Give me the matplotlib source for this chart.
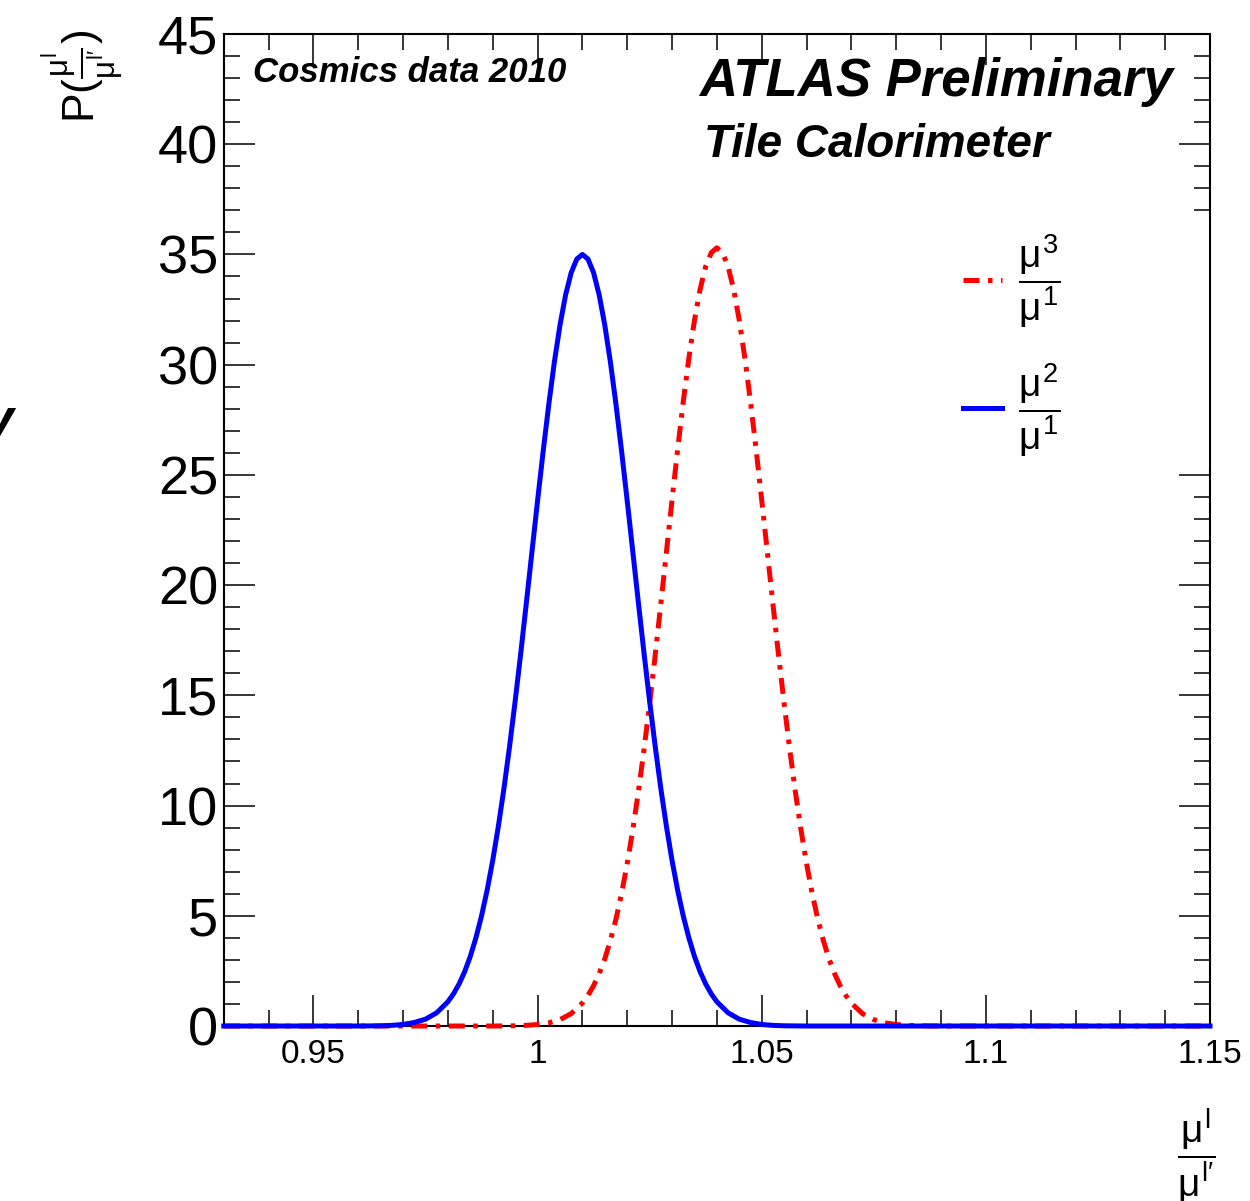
import matplotlib
matplotlib.use("Agg")
import matplotlib.pyplot as plt
from matplotlib.ticker import MultipleLocator, FuncFormatter
from matplotlib.patches import Rectangle

plt.rcParams.update({
    "font.family": "Liberation Sans",
    "mathtext.fontset": "custom",
    "mathtext.rm": "Liberation Sans",
    "mathtext.it": "Liberation Sans",
    "mathtext.bf": "Liberation Sans:bold",
    "axes.linewidth": 1.5,
})

# ratio mu2/mu1 (solid blue)
x_21 = [0.93, 0.96, 0.965, 0.9675, 0.97, 0.9725, 0.975, 0.9775,
        0.98, 0.98125, 0.9825, 0.98375, 0.985, 0.98625, 0.9875, 0.98875,
        0.99, 0.99125, 0.9925, 0.99375, 0.995, 0.99625, 0.9975, 0.99875,
        1.0, 1.00125, 1.0025, 1.00375, 1.005, 1.00625, 1.0075, 1.00875,
        1.01, 1.01125, 1.0125, 1.01375, 1.015, 1.01625, 1.0175, 1.01875,
        1.02, 1.02125, 1.0225, 1.02375, 1.025, 1.02625, 1.0275, 1.02875,
        1.03, 1.03125, 1.0325, 1.03375, 1.035, 1.03625, 1.0375, 1.03875,
        1.04, 1.0425, 1.045, 1.0475, 1.05, 1.0525, 1.055, 1.06, 1.15]
p_21 = [0.0, 0.0, 0.01, 0.03, 0.07, 0.16, 0.31, 0.60,
        1.10, 1.46, 1.91, 2.47, 3.16, 4.00, 4.99, 6.16,
        7.51, 9.05, 10.77, 12.67, 14.73, 16.91, 19.19, 21.51,
        23.82, 26.07, 28.19, 30.12, 31.79, 33.16, 34.17, 34.79,
        35.00, 34.79, 34.17, 33.16, 31.79, 30.12, 28.19, 26.07,
        23.82, 21.51, 19.19, 16.91, 14.73, 12.67, 10.77, 9.05,
        7.51, 6.16, 4.99, 4.00, 3.16, 2.47, 1.91, 1.46,
        1.10, 0.60, 0.31, 0.16, 0.07, 0.03, 0.01, 0.0, 0.0]

# ratio mu3/mu1 (red dash-dot)
x_31 = [0.93, 0.99, 0.995, 0.9975, 1.0, 1.0025, 1.005, 1.0075,
        1.01, 1.01125, 1.0125, 1.01375, 1.015, 1.01625, 1.0175, 1.01875,
        1.02, 1.02125, 1.0225, 1.02375, 1.025, 1.02625, 1.0275, 1.02875,
        1.03, 1.03125, 1.0325, 1.03375, 1.035, 1.03625, 1.0375, 1.03875,
        1.04, 1.04125, 1.0425, 1.04375, 1.045, 1.04625, 1.0475, 1.04875,
        1.05, 1.05125, 1.0525, 1.05375, 1.055, 1.05625, 1.0575, 1.05875,
        1.06, 1.06125, 1.0625, 1.06375, 1.065, 1.06625, 1.0675, 1.06875,
        1.07, 1.0725, 1.075, 1.0775, 1.08, 1.0825, 1.085, 1.09, 1.15]
p_31 = [0.0, 0.0, 0.01, 0.03, 0.07, 0.14, 0.29, 0.56,
        1.04, 1.39, 1.83, 2.38, 3.05, 3.88, 4.86, 6.02,
        7.37, 8.91, 10.64, 12.55, 14.63, 16.84, 19.15, 21.51,
        23.86, 26.16, 28.32, 30.29, 32.01, 33.41, 34.45, 35.08,
        35.30, 35.08, 34.45, 33.41, 32.01, 30.29, 28.32, 26.16,
        23.86, 21.51, 19.15, 16.84, 14.63, 12.55, 10.64, 8.91,
        7.37, 6.02, 4.86, 3.88, 3.05, 2.38, 1.83, 1.39,
        1.04, 0.56, 0.29, 0.14, 0.07, 0.03, 0.01, 0.0, 0.0]

lab_31 = r"$\dfrac{\mu^{3}}{\mu^{1}}$"
lab_21 = r"$\dfrac{\mu^{2}}{\mu^{1}}$"

fig = plt.figure(figsize=(12.5, 12.01), dpi=100)
ax = fig.add_axes([0.179, 0.1457, 0.789, 0.826])

l31, = ax.plot(x_31, p_31, color="#FF0000", lw=3.6,
               linestyle=(0, (3.2, 1.7, 0.9, 1.7)), zorder=3, clip_on=False)
l21, = ax.plot(x_21, p_21, color="#0000FF", lw=3.6, zorder=4, clip_on=False)

ax.set_xlim(0.93, 1.15)
ax.set_ylim(0, 45)
ax.xaxis.set_major_locator(MultipleLocator(0.05))
ax.xaxis.set_minor_locator(MultipleLocator(0.01))
ax.yaxis.set_major_locator(MultipleLocator(5))
ax.yaxis.set_minor_locator(MultipleLocator(1))
ax.xaxis.set_major_formatter(FuncFormatter(lambda v, p: f"{v:g}"))
ax.yaxis.set_major_formatter(FuncFormatter(lambda v, p: f"{v:g}"))
ax.tick_params(which="both", direction="in", top=True, right=True, width=1.1)
ax.tick_params(which="major", length=22)
ax.tick_params(which="minor", length=11.5)
ax.tick_params(axis="y", labelsize=39, pad=4)
ax.tick_params(axis="x", labelsize=24, pad=9)

ax.set_xlabel(r"$\dfrac{\mu^{l}}{\mu^{l\prime}}$", fontsize=28, loc="right")
ax.xaxis.set_label_coords(1.005, -0.131)
ax.xaxis.label.set_va("center")
ax.set_ylabel(r"P$(\frac{\mu^{l}}{\mu^{l\prime}})$", fontsize=32, loc="top")
ax.yaxis.set_label_coords(-0.098, 1.004)

# white patch behind the legend hides the right-hand ticks
ax.add_patch(Rectangle((0.7366, 0.5625), 0.2622, 0.252, transform=ax.transAxes,
                       facecolor="white", edgecolor="none", zorder=2.6, clip_on=False))
leg = ax.legend([l31, l21], [lab_31, lab_21], loc="upper left",
                bbox_to_anchor=(0.75, 0.80), frameon=False, fontsize=28,
                borderpad=0, borderaxespad=0, handlelength=1.0,
                handletextpad=0.4, labelspacing=0.8)
leg.set_zorder(5)

fig.text(0.2024, 0.9317, "Cosmics data 2010", fontsize=25,
         fontweight="bold", fontstyle="italic", va="baseline")
fig.text(0.559, 0.920, "ATLAS Preliminary", fontsize=38,
         fontweight="bold", fontstyle="italic", va="baseline")
fig.text(0.563, 0.8695, "Tile Calorimeter", fontsize=33,
         fontweight="bold", fontstyle="italic", va="baseline")
fig.text(-0.014, 0.636, "y", fontsize=40, fontweight="bold", fontstyle="italic",
         va="baseline")

fig.savefig("out.png", dpi=100)
